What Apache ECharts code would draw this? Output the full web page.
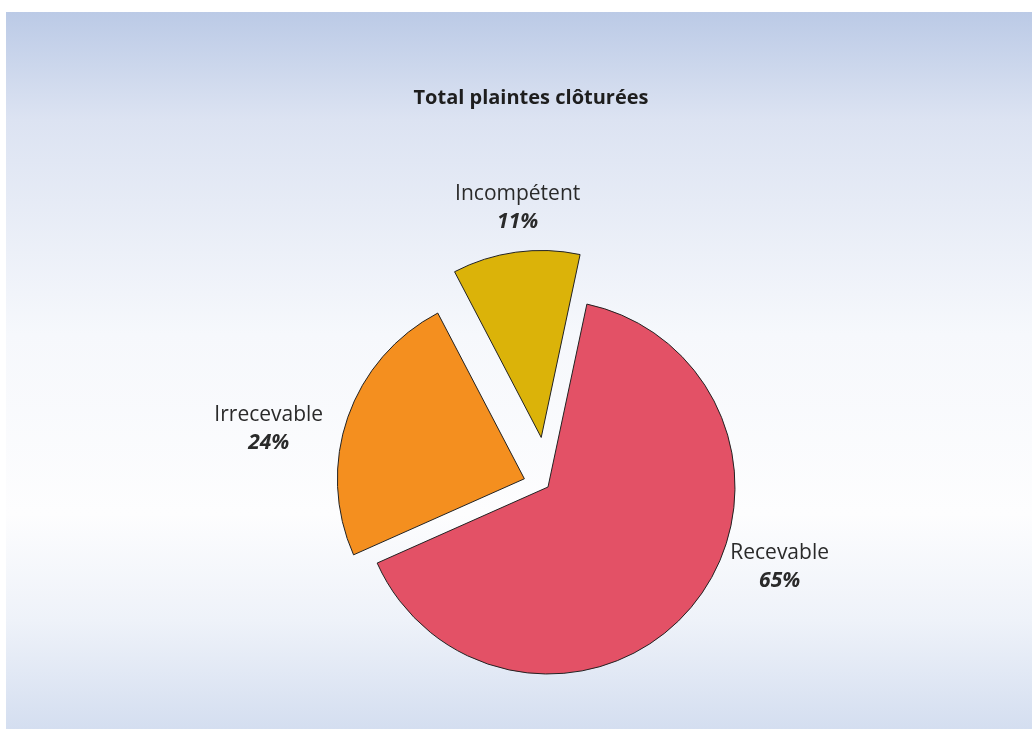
<!DOCTYPE html>
<html>
<head>
<meta charset="utf-8">
<script src="https://cdn.jsdelivr.net/npm/echarts@6/dist/echarts.min.js"></script>
<style>
  html, body { margin: 0; padding: 0; background: #ffffff; }
  #chart { width: 1032px; height: 729px; }
</style>
</head>
<body>
<div id="chart"></div>
<script>
const titleText = 'Total plaintes clôturées';
const categories = ['Recevable', 'Irrecevable', 'Incompétent'];
const values = [65, 24, 11];
const percentLabels = ['65%', '24%', '11%'];

const colors = ['#e35166', '#f48f1f', '#dbb309'];
// which pie layer each slice is drawn in (layer 0: smaller explode, layer 1: larger explode)
const sliceLayer = [0, 0, 1];
const exploded = [false, true, true];
const layerOffsets = [25, 50];
const lineLens = [57, 71, 38];
const labelShift = [[42, -74], [-12, 35], [7, -7]];

const chart = echarts.init(document.getElementById('chart'));

function makeSeries(layer) {
  const data = categories.map((name, i) => {
    const visible = sliceLayer[i] === layer;
    const style = visible
      ? { color: colors[i], borderColor: '#222222', borderWidth: 1 }
      : { color: 'transparent', borderWidth: 0 };
    return {
      name: name,
      value: values[i],
      selected: visible && exploded[i],
      itemStyle: style,
      select: { itemStyle: style },
      label: { show: visible },
      labelLine: { length: lineLens[i], length2: 0 }
    };
  });
  return {
    type: 'pie',
    center: [548, 487],
    radius: 187,
    startAngle: 78,
    clockwise: true,
    avoidLabelOverlap: false,
    selectedMode: 'multiple',
    selectedOffset: layerOffsets[layer],
    silent: true,
    data: data,
    emphasis: { disabled: true },
    labelLine: { show: false },
    label: {
      position: 'outside',
      distanceToLabelLine: 0,
      formatter: (p) => '{n|' + p.name + '}\n{p|' + percentLabels[p.dataIndex] + '}',
      rich: {
        n: { fontFamily: 'Open Sans', fontSize: 21, color: '#2a2a2a', lineHeight: 28, align: 'center' },
        p: { fontFamily: 'Open Sans', fontSize: 21, fontWeight: 'bold', fontStyle: 'italic', color: '#2a2a2a', lineHeight: 28, align: 'center' }
      }
    },
    labelLayout: (params) => ({
      align: 'center',
      verticalAlign: 'middle',
      dx: labelShift[params.dataIndex][0],
      dy: labelShift[params.dataIndex][1]
    })
  };
}

chart.setOption({
  backgroundColor: '#ffffff',
  animation: false,
  graphic: [{
    type: 'rect',
    z: -10,
    silent: true,
    shape: { x: 6, y: 12, width: 1026, height: 717 },
    style: {
      fill: new echarts.graphic.LinearGradient(0, 0, 0, 1, [
        { offset: 0, color: '#bbcae6' },
        { offset: 0.15, color: '#dce3f2' },
        { offset: 0.45, color: '#f6f8fc' },
        { offset: 0.7, color: '#fdfdfe' },
        { offset: 0.85, color: '#eef2f9' },
        { offset: 1, color: '#d4def0' }
      ])
    }
  }],
  title: {
    text: titleText,
    left: 526,
    textAlign: 'center',
    top: 83,
    textStyle: {
      fontFamily: 'Open Sans',
      fontWeight: 'bold',
      fontSize: 20,
      color: '#1e1e1e'
    }
  },
  series: [makeSeries(0), makeSeries(1)]
});
</script>
</body>
</html>
